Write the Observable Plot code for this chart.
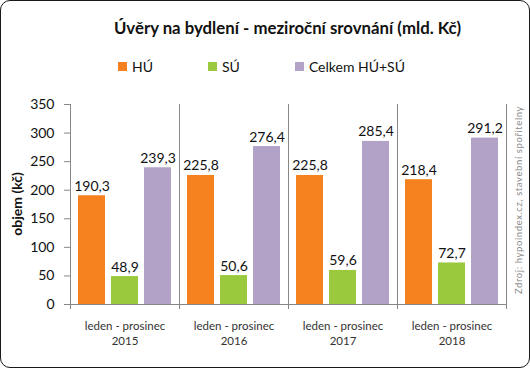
<!DOCTYPE html>
<html><head><meta charset="utf-8">
<script src="https://cdn.jsdelivr.net/npm/d3@7"></script>
<script src="https://cdn.jsdelivr.net/npm/@observablehq/plot@0.6"></script>
<style>
body{margin:0;background:#fff;font-family:Lato,sans-serif;}
#wrap{position:relative;width:530px;height:368px;overflow:hidden;background:#fff;}
#chart{position:absolute;left:0;top:0;}
#border{position:absolute;left:0;top:0;width:530px;height:368px;box-sizing:border-box;border:1px solid #1a1a1a;border-radius:10px;pointer-events:none;}
#title{position:absolute;left:58px;width:459px;top:17px;text-align:center;font-weight:bold;font-size:16.8px;color:#111;white-space:nowrap;}
#legend{position:absolute;left:118px;top:58px;display:flex;align-items:center;font-size:14px;color:#111;}
#legend .item{display:flex;align-items:center;}
#legend .sw{width:9px;height:9px;margin-right:5px;}
#ytitle{position:absolute;left:16px;top:204px;transform:translate(-50%,-50%) rotate(-90deg);font-weight:bold;font-size:14px;color:#111;white-space:nowrap;}
#source{position:absolute;left:518px;top:200px;transform:translate(-50%,-50%) rotate(-90deg);font-size:9.5px;letter-spacing:0.6px;color:#8a8a8a;white-space:nowrap;}
</style>
</head><body>
<div id="wrap">
  <div id="chart"></div>
  <div id="title"></div>
  <div id="legend"></div>
  <div id="ytitle"></div>
  <div id="source"></div>
  <div id="border"></div>
</div>
<script>
const titleText = "Úvěry na bydlení - meziroční srovnání (mld. Kč)";
const yTitle = "objem (kč)";
const sourceText = "Zdroj: hypoindex.cz, stavební spořitelny";
const period = "leden - prosinec";
const years = ["2015", "2016", "2017", "2018"];
const series = ["HÚ", "SÚ", "Celkem HÚ+SÚ"];
const hu = [190.3, 225.8, 225.8, 218.4];
const su = [48.9, 50.6, 59.6, 72.7];
const celkem = [239.3, 276.4, 285.4, 291.2];
const yTicks = [0, 50, 100, 150, 200, 250, 300, 350];
const colors = ["#F5821F", "#9BC93D", "#B3A2C7"];

const seriesValues = [hu, su, celkem];
const data = years.flatMap((yr, i) => series.map((s, j) => ({year: yr, series: s, value: seriesValues[j][i]})));
const fmt = v => d3.format(".1f")(v).replace(".", ",");

document.getElementById("title").textContent = titleText;
document.getElementById("ytitle").textContent = yTitle;
document.getElementById("source").textContent = sourceText;
const legend = document.getElementById("legend");
series.forEach((s, i) => {
  const it = document.createElement("div");
  it.className = "item";
  it.style.marginRight = i < series.length - 1 ? "55px" : "0";
  const sw = document.createElement("div");
  sw.className = "sw";
  sw.style.background = colors[i];
  const t = document.createElement("span");
  t.textContent = s;
  it.appendChild(sw); it.appendChild(t);
  legend.appendChild(it);
});

const grid = "#878787";
const plot = Plot.plot({
  width: 530, height: 368,
  marginTop: 104, marginBottom: 64, marginLeft: 68, marginRight: 23,
  style: {fontFamily: "Lato, sans-serif", background: "transparent", overflow: "visible"},
  fx: {domain: years, padding: 0},
  x: {domain: series, paddingInner: 0.19, paddingOuter: 0.24, axis: null},
  y: {domain: [0, 350]},
  color: {domain: series, range: colors},
  marks: [
    Plot.frame({anchor: "left", stroke: grid, insetBottom: -4}),
    Plot.frame({anchor: "right", stroke: grid, insetBottom: -4}),
    Plot.barY(data, {fx: "year", x: "series", y: "value", fill: "series"}),
    Plot.ruleY([0], {stroke: grid}),
    Plot.text(data, {fx: "year", x: "series", y: "value", text: d => fmt(d.value), lineAnchor: "bottom", dy: -5, fontSize: 14, fill: "#111"}),
    Plot.axisY({ticks: yTicks, tickSize: 6, tickPadding: 10, fontSize: 14, color: "#111", stroke: grid, label: null, tickFormat: d => String(d)}),
    Plot.axisFx({anchor: "bottom", tickSize: 0, tickPadding: 15, fontSize: 11.5, color: "#333", lineHeight: 1.3, label: null, tickFormat: y => `${period}\n${y}`})
  ]
});
document.getElementById("chart").appendChild(plot);
</script>
</body></html>
